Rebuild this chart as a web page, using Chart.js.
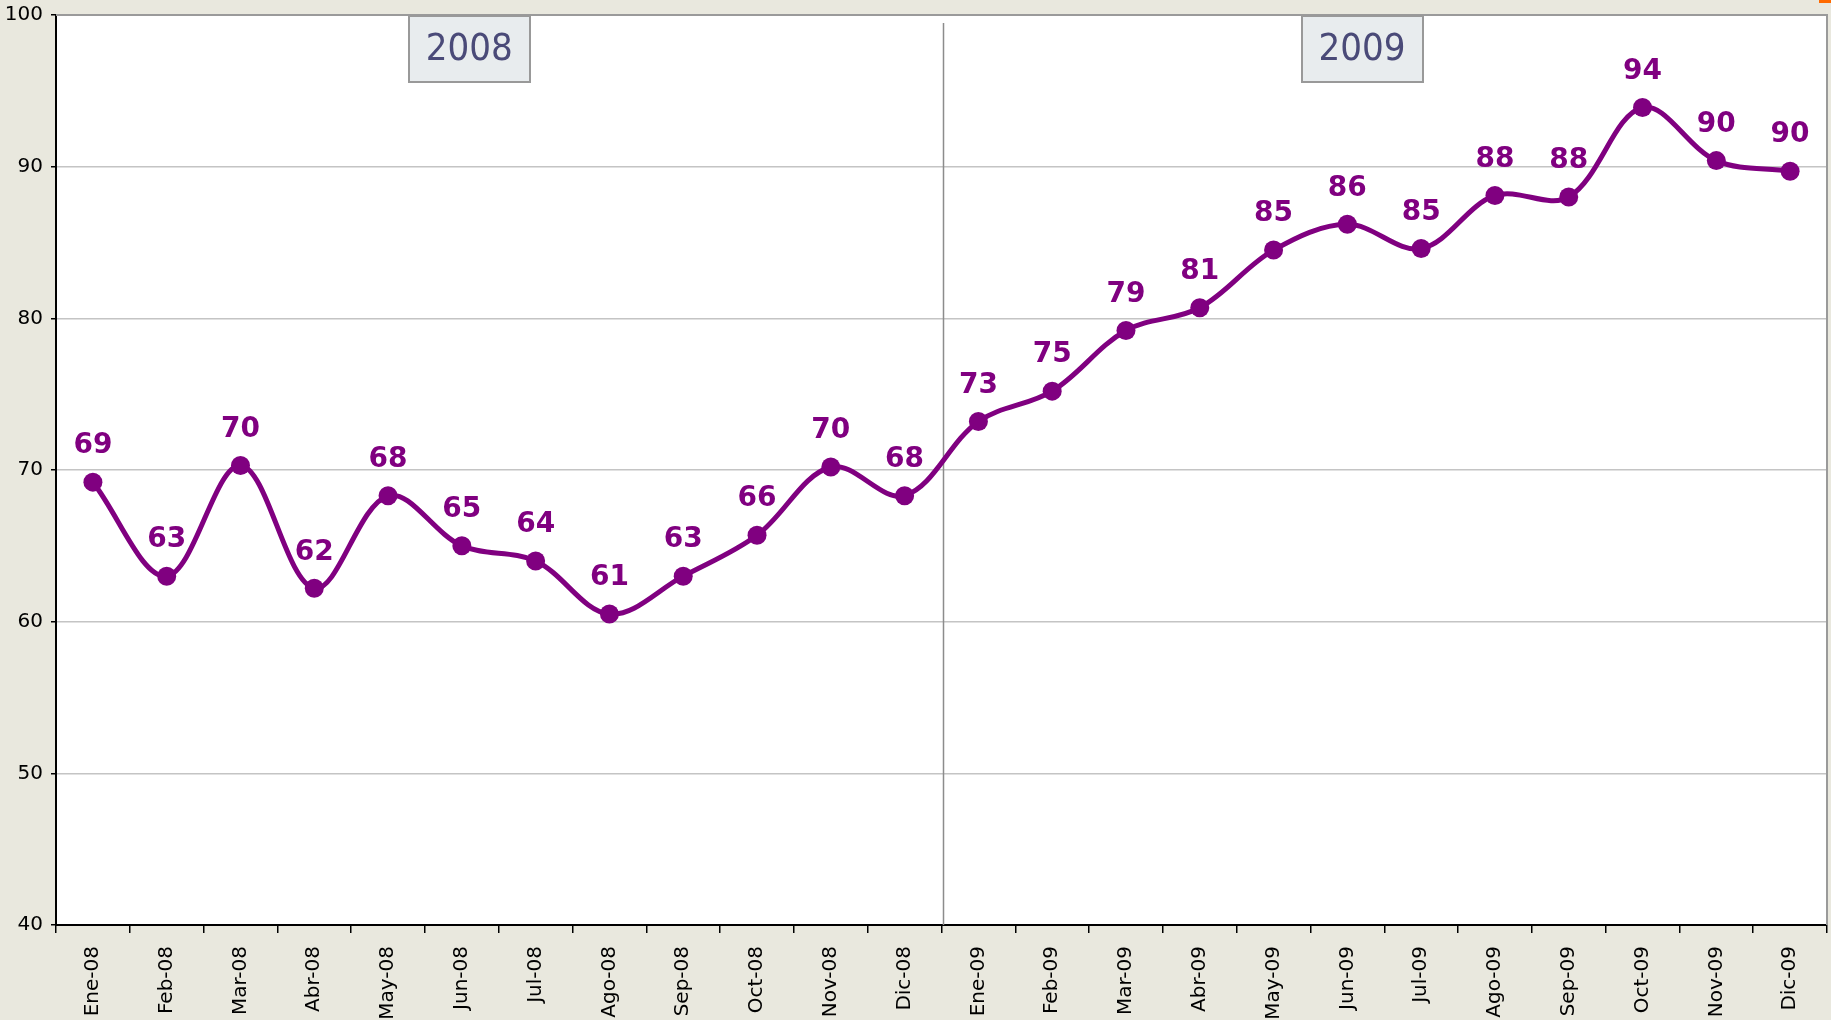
<!DOCTYPE html>
<html>
<head>
<meta charset="utf-8">
<script src="https://cdn.jsdelivr.net/npm/chart.js@4/dist/chart.umd.min.js"></script>
<style>
    html, body { margin: 0; padding: 0; background: #e9e8de; overflow: hidden; }
    #wrap { position: relative; width: 1831px; height: 1020px; }
    #corner { position: absolute; right: 0; top: 0; width: 12px; height: 3px; background: #ff6a00; }
</style>
</head>
<body>
<div id="wrap">
    <canvas id="chart" width="1831" height="1020"></canvas>
    <div id="corner"></div>
</div>
<script>
// --- Data ---
const months = ['Ene-08', 'Feb-08', 'Mar-08', 'Abr-08', 'May-08', 'Jun-08', 'Jul-08', 'Ago-08',
    'Sep-08', 'Oct-08', 'Nov-08', 'Dic-08', 'Ene-09', 'Feb-09', 'Mar-09', 'Abr-09',
    'May-09', 'Jun-09', 'Jul-09', 'Ago-09', 'Sep-09', 'Oct-09', 'Nov-09', 'Dic-09'];
const values = [69.2, 63.0, 70.3, 62.2, 68.3, 65.0, 64.0, 60.5, 63.0, 65.7, 70.2, 68.3,
    73.2, 75.2, 79.2, 80.7, 84.5, 86.2, 84.6, 88.1, 88.0, 93.9, 90.4, 89.7];
const valueLabels = ['69', '63', '70', '62', '68', '65', '64', '61', '63', '66', '70', '68',
    '73', '75', '79', '81', '85', '86', '85', '88', '88', '94', '90', '90'];
const yearLabels = ['2008', '2009'];

const purple = '#800080';
const tickFont = { family: 'DejaVu Sans', size: 20 };

// draws the value above each point
const valueLabelPlugin = {
    id: 'valueLabels',
    afterDatasetsDraw(chart) {
        const ctx = chart.ctx;
        const meta = chart.getDatasetMeta(0);
        ctx.save();
        ctx.fillStyle = purple;
        ctx.font = 'bold 28px "DejaVu Sans"';
        ctx.textAlign = 'center';
        ctx.textBaseline = 'middle';
        meta.data.forEach((pt, i) => {
            ctx.fillText(valueLabels[i], pt.x, pt.y - 36);
        });
        ctx.restore();
    }
};

// white plot area, frame (top/right), year divider and the year boxes
const framePlugin = {
    id: 'frame',
    beforeDraw(chart) {
        const { ctx, chartArea } = chart;
        ctx.save();
        ctx.fillStyle = '#ffffff';
        ctx.fillRect(chartArea.left, chartArea.top, chartArea.right - chartArea.left, chartArea.bottom - chartArea.top);
        ctx.restore();
    },
    beforeDatasetsDraw(chart) {
        const { ctx, chartArea, scales } = chart;
        const x = scales.x;
        // divider between Dic-08 and Ene-09
        const divX = (x.getPixelForValue(11) + x.getPixelForValue(12)) / 2 + 2;
        ctx.save();
        ctx.strokeStyle = '#8c8c8c';
        ctx.lineWidth = 1.5;
        ctx.beginPath();
        ctx.moveTo(divX, chartArea.top + 8);
        ctx.lineTo(divX, chartArea.bottom);
        ctx.stroke();
        ctx.restore();
    },
    afterDraw(chart, args, opts) {
        const { ctx, chartArea, scales } = chart;
        ctx.save();
        ctx.strokeStyle = '#9a9a9a';
        ctx.lineWidth = 2;
        ctx.beginPath();
        ctx.moveTo(chartArea.left, chartArea.top);
        ctx.lineTo(chartArea.right, chartArea.top);
        ctx.lineTo(chartArea.right, chartArea.bottom);
        ctx.stroke();

        // year boxes
        yearLabels.forEach((txt, i) => {
            const cx = scales.x.getPixelForValue(opts.boxAt[i]);
            const w = 121, h = 66;
            const bx = Math.round(cx - w / 2), by = chartArea.top + 1;
            ctx.fillStyle = '#e8ecee';
            ctx.fillRect(bx, by, w, h);
            ctx.strokeStyle = '#999999';
            ctx.lineWidth = 2;
            ctx.strokeRect(bx, by, w, h);
            ctx.fillStyle = '#4a4a78';
            ctx.font = '38px "DejaVu Sans Condensed", "DejaVu Sans"';
            ctx.textAlign = 'center';
            ctx.textBaseline = 'middle';
            ctx.fillText(txt, cx, by + h / 2 + 1);
        });
        ctx.restore();
    }
};

const chart = new Chart(document.getElementById('chart').getContext('2d'), {
    type: 'line',
    data: {
        labels: months,
        datasets: [{
            data: values,
            borderColor: purple,
            backgroundColor: purple,
            borderWidth: 5,
            tension: 0.35,
            pointRadius: 9.5,
            pointBorderWidth: 0,
            pointBackgroundColor: purple,
            fill: false
        }]
    },
    options: {
        responsive: false,
        animation: false,
        layout: { autoPadding: false, padding: { top: 15, right: 4, left: 0, bottom: 0 } },
        plugins: {
            legend: { display: false },
            tooltip: { enabled: false },
            frame: { boxAt: [5.1, 17.2] }
        },
        scales: {
            x: {
                offset: true,
                grid: {
                    offset: true,
                    drawOnChartArea: false,
                    tickLength: 8,
                    color: '#000',
                    lineWidth: 1.5
                },
                border: { color: '#000', width: 2 },
                ticks: {
                    autoSkip: false,
                    maxRotation: 90,
                    minRotation: 90,
                    color: '#000',
                    font: tickFont,
                    padding: 13
                },
                afterFit(scale) {
                    scale.height = 95;
                    scale.paddingLeft = 0;
                    scale.paddingRight = 0;
                }
            },
            y: {
                min: 40,
                max: 100,
                ticks: {
                    stepSize: 10,
                    color: '#000',
                    font: tickFont,
                    padding: 8
                },
                grid: {
                    color: '#c4c4c4',
                    lineWidth: 1.5,
                    tickLength: 5,
                    tickColor: '#000'
                },
                border: { color: '#000', width: 2 },
                afterFit(scale) {
                    scale.width = 56;
                    scale.paddingTop = 0;
                    scale.paddingBottom = 0;
                }
            }
        }
    },
    plugins: [framePlugin, valueLabelPlugin]
});
</script>
</body>
</html>
